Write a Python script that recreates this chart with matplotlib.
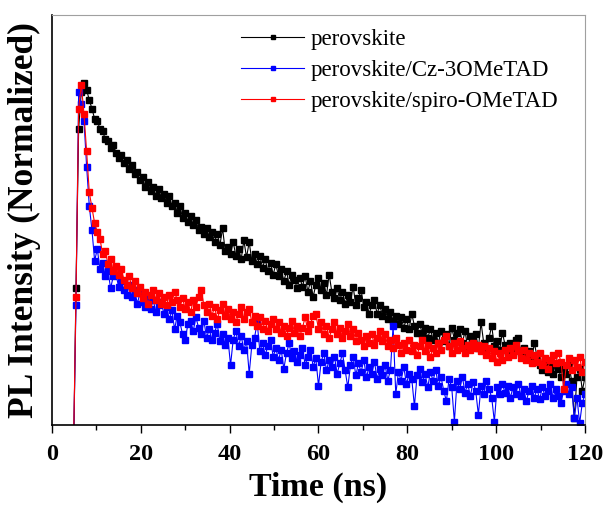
import numpy as np
import matplotlib
matplotlib.use("Agg")
import matplotlib.pyplot as plt

# time axis (ns), one channel every 0.6 ns
t = np.round(np.arange(4.2, 120.01, 0.6), 1)

# log10 of normalized PL intensity
log_pvk = [
    -2.60, -2.30, -1.20, -0.27, -0.05, 0.00, -0.04, -0.10, -0.15, -0.21,
    -0.22, -0.27, -0.28, -0.33, -0.34, -0.38, -0.36, -0.41, -0.44, -0.42,
    -0.47, -0.45, -0.50, -0.48, -0.53, -0.52, -0.57, -0.55, -0.61, -0.58,
    -0.63, -0.61, -0.66, -0.62, -0.67, -0.65, -0.70, -0.66, -0.72, -0.70,
    -0.76, -0.72, -0.79, -0.76, -0.81, -0.78, -0.83, -0.80, -0.86, -0.84,
    -0.88, -0.85, -0.90, -0.87, -0.93, -0.88, -0.95, -0.85, -0.98, -0.96,
    -1.00, -0.93, -1.01, -0.97, -1.03, -0.92, -1.02, -0.93, -1.04, -1.00,
    -1.06, -1.01, -1.08, -1.03, -1.10, -1.05, -1.12, -1.06, -1.13, -1.09,
    -1.16, -1.10, -1.18, -1.12, -1.15, -1.20, -1.14, -1.19, -1.13, -1.22,
    -1.16, -1.25, -1.18, -1.14, -1.21, -1.17, -1.24, -1.12, -1.22, -1.26,
    -1.20, -1.27, -1.22, -1.29, -1.24, -1.28, -1.19, -1.30, -1.26, -1.21,
    -1.31, -1.28, -1.35, -1.30, -1.27, -1.35, -1.30, -1.36, -1.32, -1.38,
    -1.34, -1.39, -1.36, -1.41, -1.37, -1.43, -1.38, -1.44, -1.35, -1.42,
    -1.46, -1.41, -1.47, -1.43, -1.49, -1.44, -1.50, -1.46, -1.52, -1.45,
    -1.51, -1.47, -1.54, -1.43, -1.50, -1.46, -1.44, -1.52, -1.45, -1.55,
    -1.48, -1.51, -1.47, -1.55, -1.40, -1.52, -1.56, -1.49, -1.42, -1.54,
    -1.51, -1.56, -1.46, -1.53, -1.58, -1.52, -1.56, -1.50, -1.49, -1.58,
    -1.55, -1.61, -1.57, -1.62, -1.52, -1.60, -1.65, -1.68, -1.63, -1.69,
    -1.66, -1.70, -1.64, -1.67, -1.72, -1.66, -1.70, -1.65, -1.74, -1.96,
    -1.72, -1.67, -1.80, -1.72,
]

log_cz = [
    -2.60, -2.20, -1.30, -0.05, -0.12, -0.22, -0.49, -0.72, -0.86, -1.04,
    -0.97, -1.09, -1.05, -1.13, -1.10, -1.20, -1.13, -1.12, -1.19, -1.16,
    -1.21, -1.24, -1.18, -1.25, -1.21, -1.29, -1.23, -1.28, -1.31, -1.26,
    -1.32, -1.27, -1.34, -1.30, -1.28, -1.35, -1.31, -1.38, -1.33, -1.44,
    -1.36, -1.40, -1.47, -1.50, -1.41, -1.39, -1.45, -1.37, -1.43, -1.47,
    -1.39, -1.49, -1.44, -1.50, -1.46, -1.41, -1.51, -1.47, -1.53, -1.49,
    -1.65, -1.50, -1.45, -1.54, -1.48, -1.56, -1.51, -1.70, -1.53, -1.49,
    -1.40, -1.57, -1.52, -1.59, -1.54, -1.50, -1.60, -1.55, -1.62, -1.56,
    -1.67, -1.58, -1.52, -1.61, -1.57, -1.63, -1.59, -1.55, -1.65, -1.60,
    -1.56, -1.66, -1.61, -1.77, -1.63, -1.58, -1.68, -1.62, -1.66, -1.60,
    -1.70, -1.64, -1.58, -1.68, -1.78, -1.65, -1.60, -1.71, -1.64, -1.69,
    -1.62, -1.72, -1.66, -1.70, -1.63, -1.73, -1.67, -1.71, -1.65, -1.74,
    -1.68, -1.42, -1.82, -1.69, -1.74, -1.66, -1.76, -1.70, -1.73, -1.89,
    -1.71, -1.67, -1.75, -1.70, -1.78, -1.69, -1.74, -1.68, -1.77, -1.72,
    -1.80, -1.86, -1.73, -1.78, -1.98, -1.74, -1.79, -1.72, -1.81, -1.76,
    -1.83, -1.75, -1.80, -1.94, -1.77, -1.82, -1.74, -1.79, -1.84, -1.98,
    -1.78, -1.82, -1.76, -1.81, -1.77, -1.84, -1.78, -1.82, -1.76, -1.83,
    -1.79, -1.86, -1.80, -1.77, -1.84, -1.79, -1.85, -1.78, -1.83, -1.80,
    -1.76, -1.84, -1.79, -1.83, -1.87, -1.80, -1.76, -1.82, -1.78, -1.96,
    -1.84, -1.99, -1.87, -1.82,
]

log_spiro = [
    -2.60, -2.20, -1.25, -0.15, -0.01, -0.18, -0.40, -0.64, -0.73, -0.82,
    -0.87, -0.91, -1.00, -0.98, -1.06, -1.03, -1.10, -1.07, -1.12, -1.09,
    -1.15, -1.18, -1.13, -1.20, -1.16, -1.23, -1.19, -1.26, -1.22, -1.29,
    -1.24, -1.21, -1.27, -1.23, -1.29, -1.25, -1.30, -1.24, -1.28, -1.22,
    -1.27, -1.31, -1.26, -1.32, -1.28, -1.34, -1.27, -1.31, -1.25, -1.21,
    -1.30, -1.34, -1.29, -1.36, -1.31, -1.38, -1.33, -1.29, -1.36, -1.32,
    -1.38, -1.34, -1.40, -1.35, -1.31, -1.38, -1.34, -1.32, -1.40, -1.36,
    -1.42, -1.37, -1.44, -1.39, -1.45, -1.41, -1.38, -1.44, -1.40, -1.46,
    -1.42, -1.48, -1.43, -1.39, -1.46, -1.42, -1.48, -1.43, -1.37, -1.45,
    -1.41, -1.36, -1.35, -1.44, -1.40, -1.47, -1.42, -1.49, -1.44, -1.40,
    -1.47, -1.43, -1.49, -1.45, -1.41, -1.48, -1.44, -1.51, -1.46, -1.50,
    -1.54, -1.48, -1.52, -1.47, -1.53, -1.49, -1.45, -1.51, -1.47, -1.54,
    -1.50, -1.55, -1.49, -1.53, -1.58, -1.52, -1.56, -1.50, -1.57, -1.53,
    -1.59, -1.54, -1.50, -1.57, -1.53, -1.60, -1.55, -1.58, -1.52, -1.56,
    -1.50, -1.48, -1.54, -1.58, -1.52, -1.56, -1.51, -1.55, -1.58, -1.53,
    -1.56, -1.52, -1.55, -1.53, -1.57, -1.54, -1.59, -1.55, -1.61, -1.57,
    -1.63, -1.58, -1.62, -1.56, -1.60, -1.55, -1.59, -1.53, -1.57, -1.61,
    -1.56, -1.62, -1.58, -1.64, -1.59, -1.63, -1.58, -1.65, -1.61, -1.67,
    -1.62, -1.59, -1.64, -1.58, -1.63, -1.79, -1.65, -1.61, -1.68, -1.62,
    -1.66, -1.60, -1.69, -1.63,
]

labels = ["perovskite", "perovskite/Cz-3OMeTAD", "perovskite/spiro-OMeTAD"]
colors = ["black", "#0000ff", "#ff0000"]
xticks = [0, 20, 40, 60, 80, 100, 120]

plt.rcParams['font.family'] = ['Liberation Serif', 'DejaVu Serif']

fig = plt.figure(figsize=(6.06, 5.05), dpi=100)
ax = fig.add_axes([0.0858, 1 - 425 / 505, 0.8795, 410 / 505])

for y, lab, c in zip([log_pvk, log_cz, log_spiro], labels, colors):
    ax.plot(t, 10 ** np.array(y), color=c, lw=0.8, marker='s', ms=3.8,
            mec=c, mfc=c, label=lab)

ax.set_yscale('log')
ax.set_ylim(0.01, 2.5)
ax.set_xlim(0, 120)
ax.set_xticks(xticks)
ax.set_xticklabels([str(v) for v in xticks], fontsize=17.5, fontweight='bold')
ax.set_xticks([10, 30, 50, 70, 90, 110], minor=True)
ax.tick_params(axis='y', which='both', left=False, labelleft=False)
ax.tick_params(axis='x', which='major', direction='out', length=6, width=1,
               pad=8)
ax.tick_params(axis='x', which='minor', direction='out', length=3.6, width=1)

for side in ['top', 'right']:
    ax.spines[side].set_color('#a0a0a0')
ax.spines['left'].set_linewidth(1.2)
ax.spines['bottom'].set_linewidth(1.2)

ax.set_xlabel("Time (ns)", fontsize=24.5, fontweight='bold')
ax.xaxis.set_label_coords(0.5, -0.115, transform=ax.transAxes)
ax.xaxis.label.set_va('top')
ax.set_ylabel("PL Intensity (Normalized)", fontsize=25.5, fontweight='bold',
              labelpad=8)

ax.legend(loc='upper left', bbox_to_anchor=(230 / 606, 1 - 18 / 505),
          bbox_transform=fig.transFigure, frameon=False, fontsize=16.5,
          handlelength=2.75, handletextpad=0.27, labelspacing=0.42,
          borderpad=0, markerscale=0.9)

fig.savefig("out.png", dpi=100)
